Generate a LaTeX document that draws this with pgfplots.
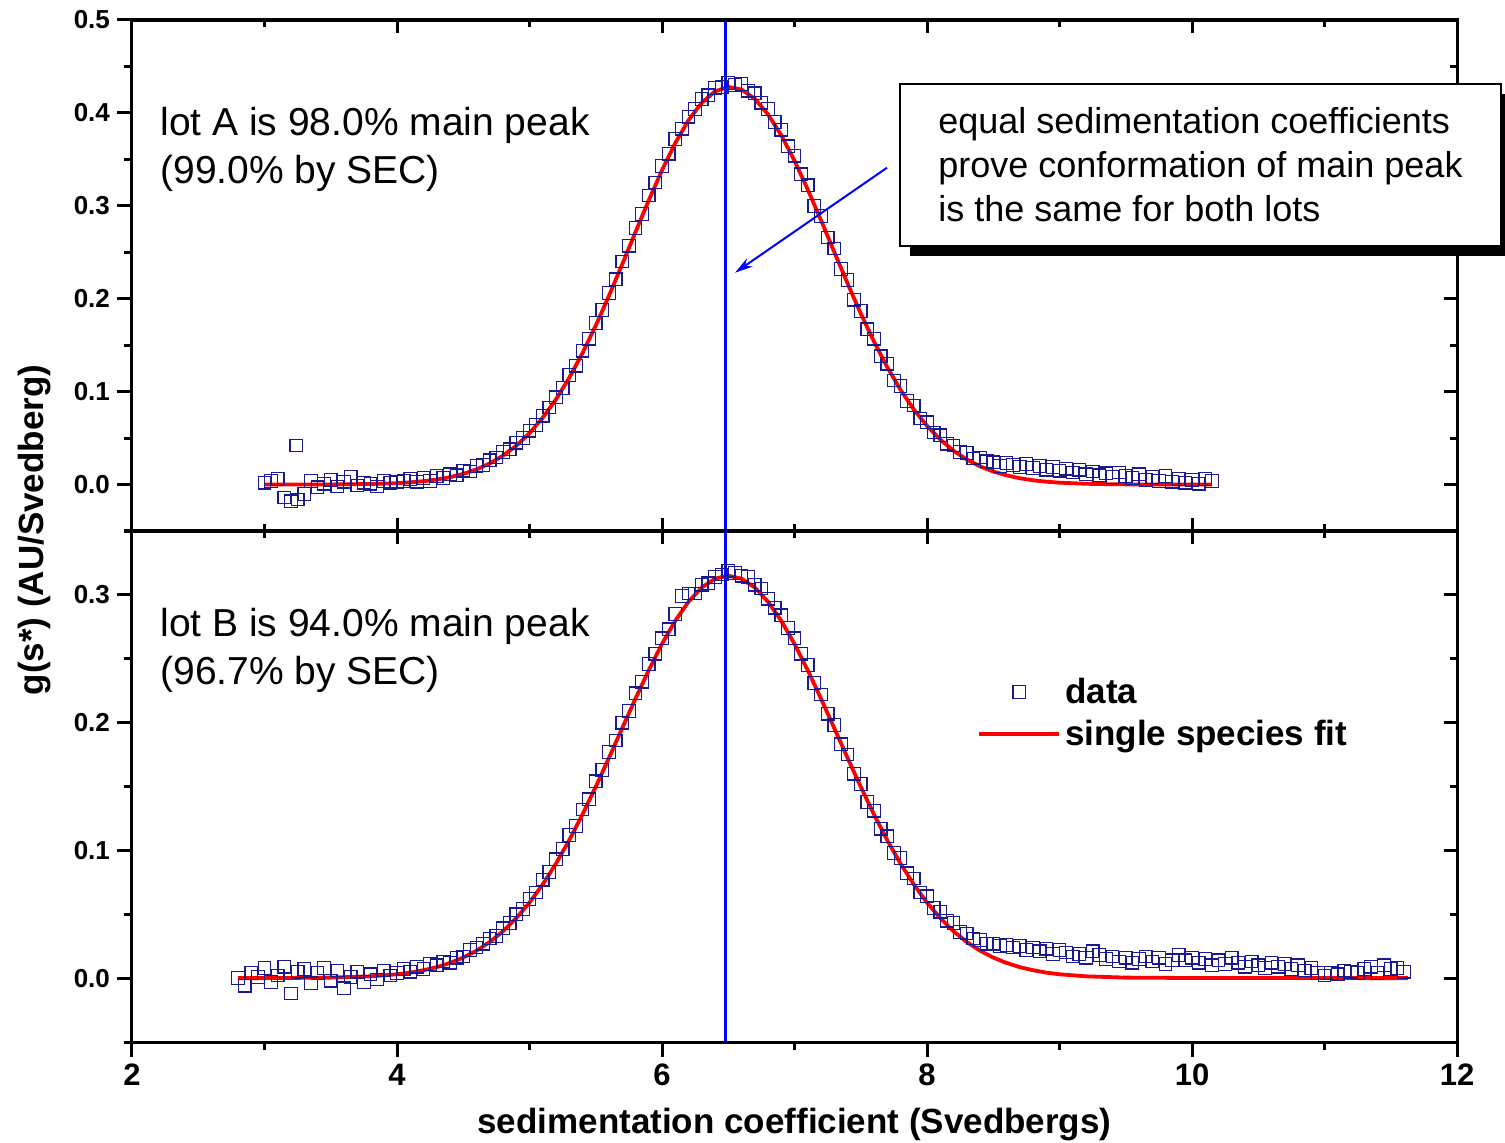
\documentclass[border=0pt]{standalone}
\usepackage{fontspec}
\setmainfont{Liberation Sans}
\usepackage{pgfplots}
\pgfplotsset{compat=1.18}
\usetikzlibrary{shadows,arrows.meta}

\definecolor{sqblue}{RGB}{25,25,145}
\definecolor{fitred}{RGB}{255,0,0}
\definecolor{vblue}{RGB}{0,0,255}

\pgfplotsset{
  panel/.style={
    scale only axis, width=662.5pt, height=255.5pt,
    xmin=2, xmax=12, xtick={2,4,...,12}, minor xtick={3,5,...,11},
    axis line style={line width=1.5pt},
    every tick/.style={black, line width=1.5pt},
    /pgf/number format/assume math mode=true,
  },
  outticks/.style={tick align=outside, major tick length=7.5pt, minor tick length=4pt},
  inticks/.style={tick align=inside, major tick length=6.5pt, minor tick length=3.5pt,
    xticklabel style={opacity=0}, yticklabel style={opacity=0}},
  datastyle/.style={only marks, mark=square, sqblue, mark size=3.15pt, mark options={line width=0.6pt, solid}},
  fitstyle/.style={fitred, line width=1.9pt, no marks},
  vlinestyle/.style={vblue, line width=1.5pt, no marks, forget plot},
}

\begin{document}
\begin{tikzpicture}
% ---------------- bottom panel (lot B) ----------------
\begin{axis}[panel, outticks, name=bot, at={(0,0)}, anchor=south west,
  ymin=-0.05, ymax=0.35, ytick={0,0.1,0.2,0.3}, minor ytick={-0.05,0.05,0.15,0.25,0.35},
  xtick pos=left, ytick pos=left,
  xticklabel={\pgfmathprintnumber{\tick}},
  yticklabel={\pgfmathprintnumber[fixed,fixed zerofill,precision=1]{\tick}},
  xticklabel style={font=\bfseries\fontsize{15.5}{15.5}\selectfont},
  yticklabel style={font=\bfseries\fontsize{13}{13}\selectfont},
  xlabel={sedimentation coefficient (Svedbergs)},
  xlabel style={font=\bfseries\fontsize{17.5}{21}\selectfont, at={(axis description cs:0.5,0)}, anchor=center, yshift=-41.5pt},
  legend style={draw=none, fill=none, at={(axis cs:8.377,0.2075)}, anchor=west, inner sep=0pt,
    font=\bfseries\fontsize{17.5}{21}\selectfont, row sep=3pt},
  legend cell align=left,
  legend image code/.code={\draw[mark repeat=2,mark phase=2,#1] plot coordinates {(0pt,0pt) (20pt,0pt) (40pt,0pt)};},
]
\addplot[datastyle] table {
2.80 0.000
2.85 -0.006
2.90 0.004
2.95 0.001
3.00 0.008
3.05 -0.003
3.10 0.002
3.15 0.009
3.20 -0.012
3.25 0.005
3.30 0.007
3.35 -0.004
3.40 0.004
3.45 0.008
3.50 -0.002
3.55 0.006
3.60 -0.008
3.65 0.001
3.70 0.005
3.75 -0.003
3.80 0.003
3.85 -0.001
3.90 0.006
3.95 0.002
4.00 0.004
4.05 0.007
4.10 0.005
4.15 0.009
4.20 0.007
4.25 0.011
4.30 0.010
4.35 0.013
4.40 0.012
4.45 0.016
4.50 0.017
4.55 0.022
4.60 0.024
4.65 0.027
4.70 0.031
4.75 0.033
4.80 0.039
4.85 0.043
4.90 0.050
4.95 0.054
5.00 0.062
5.05 0.067
5.10 0.077
5.15 0.083
5.20 0.093
5.25 0.101
5.30 0.112
5.35 0.119
5.40 0.132
5.45 0.140
5.50 0.154
5.55 0.163
5.60 0.177
5.65 0.186
5.70 0.200
5.75 0.209
5.80 0.223
5.85 0.232
5.90 0.246
5.95 0.254
6.00 0.266
6.05 0.273
6.10 0.285
6.15 0.299
6.20 0.301
6.25 0.301
6.30 0.308
6.35 0.309
6.40 0.314
6.45 0.316
6.50 0.319
6.55 0.317
6.60 0.315
6.65 0.314
6.70 0.308
6.75 0.305
6.80 0.297
6.85 0.290
6.90 0.284
6.95 0.274
7.00 0.266
7.05 0.254
7.10 0.245
7.15 0.231
7.20 0.222
7.25 0.207
7.30 0.198
7.35 0.183
7.40 0.175
7.45 0.160
7.50 0.152
7.55 0.138
7.60 0.131
7.65 0.117
7.70 0.111
7.75 0.098
7.80 0.094
7.85 0.082
7.90 0.078
7.95 0.067
8.00 0.064
8.05 0.055
8.10 0.052
8.15 0.045
8.20 0.043
8.25 0.036
8.30 0.035
8.35 0.031
8.40 0.030
8.45 0.027
8.50 0.027
8.55 0.025
8.60 0.026
8.65 0.024
8.70 0.025
8.75 0.022
8.80 0.024
8.85 0.021
8.90 0.023
8.95 0.019
9.00 0.022
9.05 0.020
9.10 0.017
9.15 0.019
9.20 0.016
9.25 0.021
9.30 0.018
9.35 0.015
9.40 0.017
9.45 0.013
9.50 0.016
9.55 0.012
9.60 0.015
9.65 0.017
9.70 0.013
9.75 0.016
9.80 0.011
9.85 0.014
9.90 0.018
9.95 0.014
10.00 0.016
10.05 0.012
10.10 0.015
10.15 0.010
10.20 0.014
10.25 0.011
10.30 0.016
10.35 0.012
10.40 0.009
10.45 0.013
10.50 0.010
10.55 0.008
10.60 0.012
10.65 0.009
10.70 0.011
10.75 0.007
10.80 0.010
10.85 0.006
10.90 0.008
10.95 0.004
11.00 0.002
11.05 0.004
11.10 0.003
11.15 0.006
11.20 0.005
11.25 0.004
11.30 0.007
11.35 0.009
11.40 0.004
11.45 0.010
11.50 0.007
11.55 0.008
11.60 0.005
};
\addlegendentry{data}
\addplot[fitstyle] table {
2.8 0.0000
3.0 0.0000
3.5 0.0004
3.8 0.0014
4.0 0.0030
4.1 0.0043
4.2 0.0062
4.3 0.0086
4.4 0.0119
4.5 0.0161
4.6 0.0215
4.7 0.0283
4.8 0.0367
4.9 0.0470
5.0 0.0591
5.1 0.0734
5.2 0.0897
5.3 0.1080
5.4 0.1281
5.5 0.1498
5.6 0.1725
5.7 0.1957
5.8 0.2188
5.9 0.2410
6.0 0.2616
6.1 0.2797
6.2 0.2946
6.3 0.3058
6.4 0.3127
6.5 0.3150
6.6 0.3127
6.7 0.3058
6.8 0.2946
6.9 0.2797
7.0 0.2616
7.1 0.2410
7.2 0.2188
7.3 0.1957
7.4 0.1725
7.5 0.1498
7.6 0.1281
7.7 0.1080
7.8 0.0897
7.9 0.0734
8.0 0.0591
8.1 0.0470
8.2 0.0367
8.3 0.0283
8.4 0.0215
8.5 0.0161
8.6 0.0119
8.7 0.0086
8.8 0.0062
8.9 0.0043
9.0 0.0030
9.2 0.0014
9.5 0.0004
10.0 0.0001
11.63 0.0000
};
\addlegendentry{single species fit}
\addplot[vlinestyle] coordinates {(6.48,-0.05) (6.48,0.35)};
\node[anchor=west, align=left, inner sep=0pt, font=\fontsize{19.5}{24}\selectfont] at (axis cs:2.211,0.2568) {lot B is 94.0\% main peak\\(96.7\% by SEC)};
\end{axis}
\begin{axis}[panel, inticks, at={(0,0)}, anchor=south west,
  ymin=-0.05, ymax=0.35, ytick={0,0.1,0.2,0.3}, minor ytick={-0.05,0.05,0.15,0.25,0.35},
  xtick pos=right, ytick pos=right]
\addplot[draw=none, forget plot] coordinates {(2,0) (12,0)};
\end{axis}
% ---------------- top panel (lot A) ----------------
\begin{axis}[panel, outticks, name=top, at={(0,255.5pt)}, anchor=south west,
  ymin=-0.05, ymax=0.5, ytick={0,0.1,...,0.5}, minor ytick={-0.05,0.05,0.15,0.25,0.35,0.45},
  xtick=\empty, minor xtick={}, ytick pos=left,
  yticklabel={\pgfmathprintnumber[fixed,fixed zerofill,precision=1]{\tick}},
  yticklabel style={font=\bfseries\fontsize{13}{13}\selectfont},
]
\addplot[datastyle] table {
3.00 0.002
3.05 0.004
3.10 0.006
3.15 -0.014
3.20 -0.018
3.24 0.042
3.25 -0.016
3.30 -0.010
3.35 0.004
3.40 -0.003
3.45 0.001
3.50 0.005
3.55 -0.002
3.60 0.003
3.65 0.008
3.70 -0.001
3.75 0.002
3.80 0.001
3.85 -0.002
3.90 0.004
3.95 0.002
4.00 0.003
4.05 0.004
4.10 0.006
4.15 0.003
4.20 0.007
4.25 0.004
4.30 0.009
4.35 0.007
4.40 0.011
4.45 0.010
4.50 0.015
4.55 0.014
4.60 0.020
4.65 0.021
4.70 0.026
4.75 0.029
4.80 0.035
4.85 0.038
4.90 0.045
4.95 0.050
5.00 0.058
5.05 0.064
5.10 0.074
5.15 0.083
5.20 0.094
5.25 0.104
5.30 0.118
5.35 0.128
5.40 0.144
5.45 0.157
5.50 0.174
5.55 0.188
5.60 0.206
5.65 0.221
5.70 0.240
5.75 0.257
5.80 0.276
5.85 0.291
5.90 0.311
5.95 0.325
6.00 0.343
6.05 0.356
6.10 0.372
6.15 0.383
6.20 0.396
6.25 0.404
6.30 0.415
6.35 0.419
6.40 0.427
6.45 0.428
6.50 0.432
6.55 0.430
6.60 0.431
6.65 0.424
6.70 0.421
6.75 0.411
6.80 0.404
6.85 0.390
6.90 0.382
6.95 0.364
7.00 0.354
7.05 0.334
7.10 0.322
7.15 0.300
7.20 0.289
7.25 0.266
7.30 0.254
7.35 0.232
7.40 0.220
7.45 0.199
7.50 0.187
7.55 0.167
7.60 0.157
7.65 0.138
7.70 0.130
7.75 0.112
7.80 0.106
7.85 0.090
7.90 0.085
7.95 0.071
8.00 0.067
8.05 0.056
8.10 0.053
8.15 0.044
8.20 0.042
8.25 0.035
8.30 0.034
8.35 0.028
8.40 0.029
8.45 0.025
8.50 0.024
8.55 0.020
8.60 0.023
8.65 0.021
8.70 0.019
8.75 0.022
8.80 0.018
8.85 0.020
8.90 0.016
8.95 0.019
9.00 0.015
9.05 0.017
9.10 0.013
9.15 0.016
9.20 0.011
9.25 0.014
9.30 0.010
9.35 0.012
9.40 0.008
9.45 0.013
9.50 0.009
9.55 0.007
9.60 0.011
9.65 0.005
9.70 0.008
9.75 0.004
9.80 0.009
9.85 0.003
9.90 0.006
9.95 0.002
10.00 0.005
10.05 0.001
10.10 0.006
10.15 0.004
};
\addplot[fitstyle] table {
3.0 0.0000
3.5 0.0001
3.8 0.0006
4.0 0.0015
4.1 0.0024
4.2 0.0036
4.3 0.0054
4.4 0.0079
4.5 0.0115
4.6 0.0163
4.7 0.0227
4.8 0.0311
4.9 0.0418
5.0 0.0553
5.1 0.0719
5.2 0.0917
5.3 0.1149
5.4 0.1415
5.5 0.1711
5.6 0.2032
5.7 0.2371
5.8 0.2717
5.9 0.3059
6.0 0.3383
6.1 0.3675
6.2 0.3921
6.3 0.4110
6.4 0.4232
6.5 0.4280
6.6 0.4252
6.7 0.4152
6.8 0.3985
6.9 0.3760
7.0 0.3485
7.1 0.3176
7.2 0.2845
7.3 0.2503
7.4 0.2166
7.5 0.1841
7.6 0.1539
7.7 0.1264
7.8 0.1020
7.9 0.0809
8.0 0.0631
8.1 0.0484
8.2 0.0364
8.3 0.0270
8.4 0.0196
8.5 0.0140
8.6 0.0099
8.7 0.0068
8.8 0.0046
8.9 0.0031
9.0 0.0020
9.2 0.0008
9.4 0.0003
9.6 0.0001
10.15 0.0000
};
\addplot[vlinestyle] coordinates {(6.48,-0.05) (6.48,0.5)};
\node[anchor=west, align=left, inner sep=0pt, font=\fontsize{19.5}{24}\selectfont] at (axis cs:2.211,0.361) {lot A is 98.0\% main peak\\(99.0\% by SEC)};
\draw[vblue, line width=1pt, -{Stealth[length=9pt,width=5pt]}] (axis cs:7.698,0.341) -- (axis cs:6.551,0.228);
\coordinate (boxnw) at (axis cs:7.789,0.432);
\end{axis}
\begin{axis}[panel, inticks, at={(0,255.5pt)}, anchor=south west,
  ymin=-0.05, ymax=0.5, ytick={0,0.1,...,0.5}, minor ytick={-0.05,0.05,0.15,0.25,0.35,0.45},
  xtick pos=both, ytick pos=right]
\addplot[draw=none, forget plot] coordinates {(2,0) (12,0)};
\end{axis}
% annotation box
\node[draw=black, line width=0.9pt, fill=white, anchor=north west, minimum width=300.5pt,
  minimum height=81pt, inner xsep=17pt, align=left,
  font=\fontsize{18}{22}\selectfont,
  drop shadow={shadow xshift=5pt, shadow yshift=-5pt, fill=black, opacity=1}]
  at (boxnw) {equal sedimentation coefficients\\prove conformation of main peak\\is the same for both lots};
% y label
\node[rotate=90, font=\bfseries\fontsize{17.5}{21}\selectfont] at (-48.5pt,256pt) {g(s*) (AU/Svedberg)};
\pgfresetboundingbox
\useasboundingbox (-66pt,-50pt) rectangle (686.5pt,521pt);
\end{tikzpicture}
\end{document}
